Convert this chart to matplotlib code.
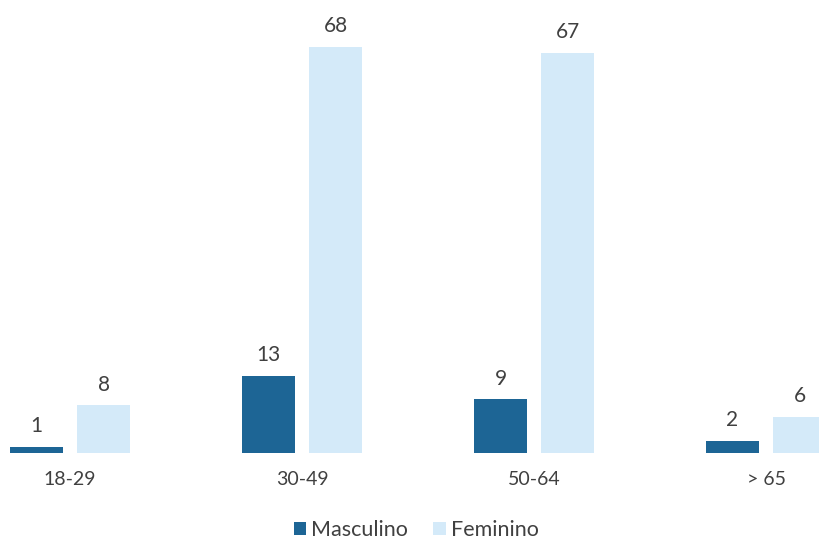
import matplotlib
matplotlib.use("Agg")
import matplotlib.pyplot as plt
import numpy as np

categories = ["18-29", "30-49", "50-64", "> 65"]
masculino = [1, 13, 9, 2]
feminino = [8, 68, 67, 6]
series_names = ["Masculino", "Feminino"]

plt.rcParams['font.family'] = ['Lato', 'DejaVu Sans']
text_color = "#404040"
dark = "#1d6595"
light = "#d4eaf9"

fig = plt.figure(figsize=(8.19, 5.42), dpi=100)
ax = fig.add_axes([0, 0.164, 1, 0.749])

x = np.arange(len(categories))
w = 0.228
off = 0.145
b1 = ax.bar(x - off, masculino, w, color=dark, label=series_names[0])
b2 = ax.bar(x + off, feminino, w, color=light, label=series_names[1])

for bars, vals in ((b1, masculino), (b2, feminino)):
    for r, v in zip(bars, vals):
        ax.annotate(str(v), (r.get_x() + r.get_width() / 2, v),
                    xytext=(0, 15), textcoords="offset points",
                    ha="center", va="center", fontsize=15, color=text_color)

ax.set_xlim(-0.302, 3.228)
ax.set_ylim(0, 68)
ax.set_xticks(x)
ax.set_xticklabels(categories, fontsize=14, color=text_color)
ax.tick_params(axis="x", length=0, pad=13)
ax.set_yticks([])
for s in ax.spines.values():
    s.set_visible(False)

fig.legend(handles=[b1, b2], labels=series_names, loc="center",
           bbox_to_anchor=(0.508, 0.022), ncol=2, frameon=False,
           fontsize=15.5, handlelength=0.6, handleheight=0.6,
           handletextpad=0.2, columnspacing=1.2, labelcolor=text_color)

fig.savefig("out.png", dpi=100)
